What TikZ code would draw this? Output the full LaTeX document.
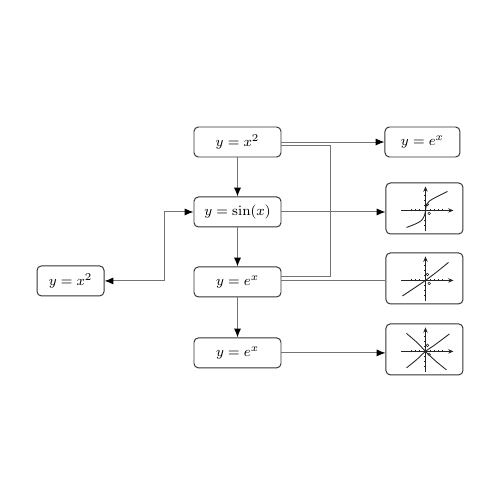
\documentclass[tikz,border=0pt]{standalone}
\usepackage{tikz}
\usetikzlibrary{positioning,calc}
\usetikzlibrary{arrows.meta}

\tikzset{
  fbox/.style={draw=black!80, rounded corners=2.5pt, line width=0.55pt,
    minimum width=1.74cm, minimum height=0.6cm, inner sep=0pt,
    font=\fontsize{8.5}{10}\selectfont},
  gbox/.style={draw=black!80, rounded corners=2.5pt, line width=0.55pt,
    minimum width=1.54cm, minimum height=1.02cm, inner sep=0pt},
  link/.style={draw=black!55, line width=0.55pt},
  tip/.style={-{Latex[length=5pt,width=4pt,color=black]}},
  curve/.style={line width=0.5pt, black!85},
}

% axes of a small graph, in px units round the node centre
\newcommand{\graphaxes}[1]{%
  \begin{scope}[shift={(#1.center)}, x=0.02cm, y=0.02cm, xshift=0.02cm, yshift=-0.04cm]
    \draw[black!85, line width=0.45pt, -{Stealth[length=3pt,width=2.5pt]}] (-24,0) -- (28,0);
    \draw[black!85, line width=0.45pt, -{Stealth[length=3pt,width=2.5pt]}] (0,-21) -- (0,24);
    \foreach \t in {-14,-10,-6,5,9,13,17}
      \draw[black!85, line width=0.35pt] (\t,-1) -- (\t,1);
    \foreach \t in {-15,-10,-5,5,10,15}
      \draw[black!85, line width=0.35pt] (-1,\t) -- (1,\t);
    \draw[black!85, line width=0.3pt] (2,6) circle (1.3);
    \draw[black!85, line width=0.3pt] (3.7,-3) circle (1.3);
  \end{scope}}

\begin{document}
\begin{tikzpicture}
  \useasboundingbox (0,0) rectangle (10,-10);

  % chain of functions
  \node[fbox] (sq) at (4.75,-2.84) {$y=x^2$};
  \node[fbox, below=0.78cm of sq] (sine) {$y=\sin(x)$};
  \node[fbox, below=0.78cm of sine] (expa) {$y=e^{x}$};
  \node[fbox, below=0.8cm of expa] (expb) {$y=e^{x}$};

  % side boxes
  \node[fbox, minimum width=1.5cm, right=2.06cm of sq] (expr) {$y=e^{x}$};
  \node[fbox, minimum width=1.34cm, left=1.78cm of expa, yshift=0.02cm] (sql) {$y=x^2$};

  % graphs
  \node[gbox, right=2.08cm of sine, yshift=0.07cm] (g1) {};
  \node[gbox, right=2.08cm of expa, yshift=0.07cm] (g2) {};
  \node[gbox, right=2.08cm of expb, yshift=0.07cm] (g3) {};

  \graphaxes{g1}
  \graphaxes{g2}
  \graphaxes{g3}

  \begin{scope}[shift={(g1.center)}, x=0.02cm, y=0.02cm, xshift=0.02cm, yshift=-0.04cm]
    \draw[curve] plot[smooth] coordinates
      {(-19,-17) (-10,-13.5) (-4,-10) (-1,-5) (0,0) (1,5) (4,9.5) (11,13.5) (22,19)};
  \end{scope}
  \begin{scope}[shift={(g2.center)}, x=0.02cm, y=0.02cm, xshift=0.02cm, yshift=-0.04cm]
    \draw[curve] plot[smooth] coordinates {(-23,-15.5) (-8,-5.5) (0,0) (10,7.5) (23,18)};
  \end{scope}
  \begin{scope}[shift={(g3.center)}, x=0.02cm, y=0.02cm, xshift=0.02cm, yshift=-0.04cm]
    \draw[curve] plot[smooth] coordinates {(-19,18) (-8,8.5) (0,0) (10,-9.5) (21,-18.5)};
    \draw[curve] plot[smooth] coordinates {(-19,-16.5) (-8,-7.5) (0,0) (10,7) (24,17.5)};
  \end{scope}

  % connectors
  \draw[link, tip] (sq) -- (expr);
  \draw[link] ([yshift=-0.06cm]sq.east) -| ([xshift=0.98cm,yshift=0.1cm]expa.east)
    -- ([yshift=0.1cm]expa.east);
  \draw[link, tip] (sq) -- (sine);
  \draw[link, tip] (sine) -- (expa);
  \draw[link, tip] (expa) -- (expb);
  \draw[link, tip] (sine.east) -- (sine.east -| g1.west);
  \draw[link] ([yshift=0.03cm]expa.east) -- ([yshift=0.03cm]expa.east -| g2.west);
  \draw[link, tip] (expb.east) -- (expb.east -| g3.west);
  \draw[link, {Latex[length=5pt,width=4pt,color=black]}-{Latex[length=5pt,width=4pt,color=black]}]
    (sql.east) -| ([xshift=-0.58cm]sine.west) -- (sine.west);
\end{tikzpicture}
\end{document}
